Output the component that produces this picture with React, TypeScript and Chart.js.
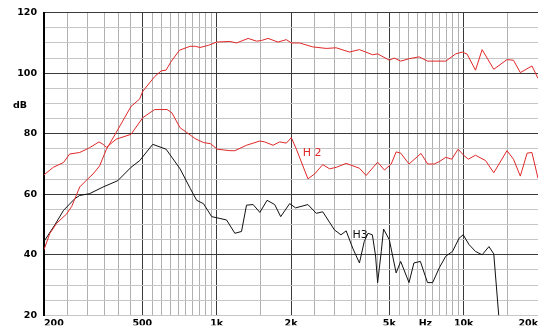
import React, { useEffect, useRef } from 'react';
import { Chart, registerables } from 'chart.js';

Chart.register(...registerables);

const RED = '#e02828';
const BLACK = '#111111';

// Main response (red, top)
const respFreq = [200, 211, 225, 247, 259, 267, 279, 301, 316, 336, 358, 392, 450, 488, 502, 561, 597, 624, 650, 707, 781, 820, 856, 925, 1000, 1131, 1204, 1341, 1450, 1518, 1614, 1772, 1915, 2006, 2166, 2451, 2776, 3049, 3450, 3785, 4280, 4485, 5000, 5235, 5564, 6012, 6605, 7140, 8460, 9295, 9880, 10330, 11170, 11880, 13240, 14980, 15910, 16960, 18910, 20000];
const respDb = [41.7, 47, 50.4, 53.5, 56, 58.6, 62.4, 65.1, 66.7, 69.4, 74.9, 80.4, 89, 91.5, 94, 98.9, 100.8, 101, 103.5, 107.6, 108.9, 108.9, 108.5, 109.2, 110.3, 110.5, 110, 111.5, 110.6, 110.8, 111.5, 110.3, 111.1, 110, 110, 108.7, 108.2, 108.4, 107, 107.8, 106.1, 106.4, 104.3, 105, 104, 104.8, 105.4, 104, 104, 106.4, 107, 106.3, 101, 107.8, 101.3, 104.5, 104.3, 100.2, 102.4, 98.3];

// 2nd harmonic (red, middle)
const h2Freq = [200, 218, 240, 254, 279, 306, 334, 347, 358, 392, 450, 502, 561, 630, 659, 711, 757, 818, 883, 945, 1006, 1131, 1185, 1321, 1496, 1565, 1692, 1800, 1915, 2006, 2103, 2342, 2492, 2689, 2865, 3049, 3345, 3785, 4029, 4485, 4780, 5090, 5330, 5560, 6010, 6720, 7150, 7600, 7970, 8460, 8950, 9500, 10000, 10450, 11170, 12280, 13240, 14980, 15910, 16960, 18070, 18900, 20000];
const h2Db = [66.4, 68.9, 70.5, 73.3, 73.8, 75.4, 77.3, 76.5, 75.5, 78.2, 79.8, 85.3, 88, 88, 86.9, 82, 80.4, 78.4, 77.1, 76.7, 74.9, 74.4, 74.4, 76.2, 77.6, 77.3, 76.2, 77.3, 76.9, 78.7, 74.9, 65.1, 66.7, 69.8, 68.4, 68.9, 70.2, 68.6, 66.2, 70.6, 68, 70, 74, 73.6, 70, 73.5, 70, 70, 70.8, 72.2, 71.6, 74.9, 72.9, 71.6, 72.9, 71.1, 67.1, 74.4, 71.6, 66, 73.6, 73.8, 65.3];

// 3rd harmonic (black)
const h3Freq = [200, 221, 240, 267, 279, 306, 347, 398, 450, 488, 551, 624, 659, 711, 781, 830, 884, 955, 1031, 1097, 1185, 1261, 1321, 1405, 1496, 1600, 1718, 1817, 1975, 2088, 2342, 2531, 2689, 3000, 3186, 3345, 3555, 3785, 3960, 4100, 4270, 4400, 4485, 4640, 4740, 5000, 5330, 5560, 6010, 6290, 6680, 7140, 7490, 7970, 8460, 9010, 9590, 9960, 10510, 11170, 11880, 12660, 13240, 13900];
const h3Db = [44.4, 49.8, 54.7, 58.6, 59.6, 60.2, 62.4, 64.5, 68.9, 71.1, 76.5, 74.9, 72.2, 68.4, 62, 58, 56.9, 52.6, 52, 51.5, 47.1, 47.7, 56.4, 56.6, 54, 58, 56.6, 52.6, 56.9, 55.5, 56.6, 53.7, 54.2, 48.2, 46.6, 47.9, 42.2, 37.3, 44.4, 47.1, 46.6, 39.6, 30.8, 41.1, 48.5, 45, 34, 37.8, 30.8, 37.3, 37.8, 30.8, 30.8, 35.7, 39.5, 41.1, 45.5, 46.6, 43.4, 41.1, 40, 42.7, 40.3, 19];

// Axis ticks
const xGridValues = [
  200, 250, 300, 350, 400, 450, 500, 550, 600, 650, 700, 750, 800, 850, 900, 950, 1000,
  1500, 2000, 2500, 3000, 3500, 4000, 4500, 5000, 5500, 6000, 6500, 7000, 7500, 8000, 8500, 9000, 9500, 10000,
  15000, 20000,
];
const xMajorValues = [500, 1000, 2000, 5000, 10000];
const xLabelValues = [200, 500, 1000, 2000, 5000, 7000, 10000, 20000];
const xLabelTexts = ['200', '500', '1k', '2k', '5k', 'Hz', '10k', '20k'];
const yMin = 20;
const yMax = 120;
const yStep = 5;
const yLabelEvery = 20;
const yUnit = 'dB';

const annotationTexts = ['H 2', 'H3'];
const annotationFreq = [2230, 3550];
const annotationDb = [72.6, 45.5];
const annotationColors = [RED, BLACK];

const toPoints = (f: number[], v: number[]) => f.map((x, i) => ({ x, y: v[i] }));

const textPlugin = {
  id: 'textPlugin',
  afterDatasetsDraw(chart: any) {
    const { ctx, scales } = chart;
    const xs = scales.x;
    const ys = scales.y;
    ctx.save();
    ctx.textBaseline = 'alphabetic';
    ctx.textAlign = 'left';
    ctx.font = '11px "DejaVu Sans"';
    annotationTexts.forEach((t, i) => {
      ctx.fillStyle = annotationColors[i];
      ctx.fillText(t, xs.getPixelForValue(annotationFreq[i]), ys.getPixelForValue(annotationDb[i]));
    });
    ctx.fillStyle = '#000';
    ctx.font = 'bold 9.5px "DejaVu Sans"';
    ctx.fillText(yUnit, chart.chartArea.left - 31, ys.getPixelForValue(88.6));
    ctx.restore();
  },
};

export default function App() {
  const ref = useRef<HTMLCanvasElement | null>(null);
  useEffect(() => {
    if (!ref.current) return;
    const chart = new Chart(ref.current, {
      type: 'line',
      data: {
        datasets: [
          { data: toPoints(respFreq, respDb), borderColor: RED, borderWidth: 1, pointRadius: 0, tension: 0 },
          { data: toPoints(h2Freq, h2Db), borderColor: RED, borderWidth: 1, pointRadius: 0, tension: 0 },
          { data: toPoints(h3Freq, h3Db), borderColor: BLACK, borderWidth: 1, pointRadius: 0, tension: 0 },
        ],
      },
      options: {
        responsive: false,
        animation: false,
        devicePixelRatio: 1,
        parsing: false as any,
        layout: { padding: { top: 12, right: 1, bottom: 0, left: 0 } },
        plugins: { legend: { display: false }, tooltip: { enabled: false } },
        scales: {
          x: {
            type: 'logarithmic',
            min: 200,
            max: 20000,
            afterBuildTicks: (scale: any) => {
              scale.ticks = xGridValues.map((v) => ({ value: v }));
            },
            afterFit: (scale: any) => {
              scale.height = 10;
            },
            border: { display: false },
            grid: {
              drawTicks: false,
              lineWidth: 1,
              color: (c: any) => {
                const v = c.tick && c.tick.value;
                if (v === 20000) return 'rgba(0,0,0,0)';
                if (xMajorValues.includes(v)) return '#3a3a3a';
                return '#b0b0b0';
              },
            },
            ticks: {
              autoSkip: false,
              maxRotation: 0,
              minRotation: 0,
              align: 'inner',
              padding: 3,
              color: '#000',
              font: { family: 'DejaVu Sans', size: 9.5, weight: 'bold' },
              callback: (value: any) => {
                const i = xLabelValues.indexOf(Number(value));
                return i >= 0 ? xLabelTexts[i] : '';
              },
            },
          },
          y: {
            type: 'linear',
            min: yMin,
            max: yMax,
            afterFit: (scale: any) => {
              scale.width = 44;
            },
            border: { display: true, color: '#000', width: 2 },
            grid: {
              drawTicks: false,
              lineWidth: 1,
              color: (c: any) => {
                const v = c.tick && c.tick.value;
                if (v % yLabelEvery === 0 && v !== yMin) return '#3a3a3a';
                return '#c6c6c6';
              },
            },
            ticks: {
              stepSize: yStep,
              autoSkip: false,
              padding: 7,
              color: '#000',
              font: { family: 'DejaVu Sans', size: 9.5, weight: 'bold' },
              callback: (value: any) => (Number(value) % yLabelEvery === 0 ? String(value) : ''),
            },
          },
        },
      } as any,
      plugins: [textPlugin],
    });
    return () => chart.destroy();
  }, []);
  return (
    <div style={{ position: 'fixed', left: 0, top: 0, width: 541, height: 328, background: '#fff' }}>
      <canvas ref={ref} width={541} height={328} style={{ display: 'block', width: 541, height: 328 }} />
    </div>
  );
}
